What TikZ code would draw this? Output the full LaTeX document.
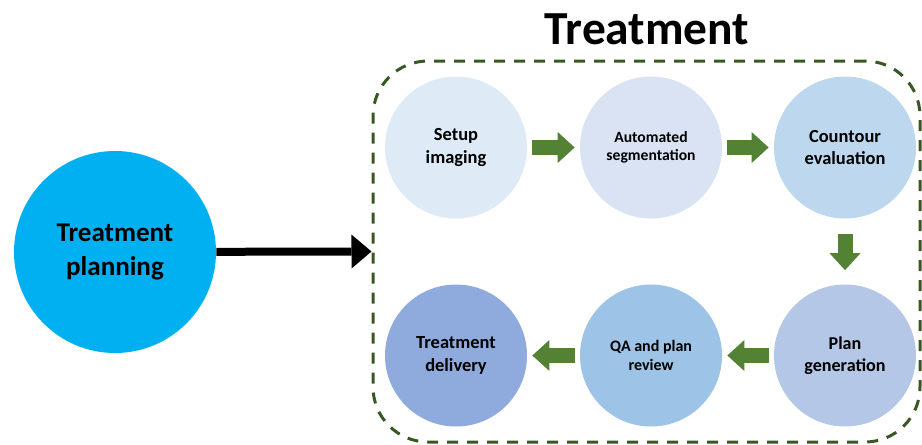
\documentclass[tikz,border=0pt]{standalone}
\usepackage{fontspec}
\setmainfont{Carlito}
\usetikzlibrary{arrows.meta}
\definecolor{planblue}{HTML}{00B0F0}
\definecolor{setupcol}{HTML}{DEEBF7}
\definecolor{segcol}{HTML}{DAE3F3}
\definecolor{contourcol}{HTML}{BDD7EE}
\definecolor{plangencol}{HTML}{B4C7E7}
\definecolor{qacol}{HTML}{9DC3E6}
\definecolor{delivcol}{HTML}{8FAADC}
\definecolor{boxgreen}{HTML}{385723}
\definecolor{arrowgreen}{HTML}{548235}

\begin{document}
\begin{tikzpicture}[
        stage/.style={circle, inner sep=0pt, minimum size=2.84cm, align=center,
                      font=\bfseries\fontsize{10.5}{12.8}\selectfont},
        greenarrow/.style={arrowgreen, line width=0.3cm,
                      -{Triangle[length=0.34cm, width=0.62cm, line width=0pt]},
                      shorten <=0.1cm, shorten >=0.1cm}
    ]
        \useasboundingbox (0,0) rectangle (18.44,8.88);

        \node [circle, fill=planblue, minimum size=4.04cm, inner sep=0pt, align=center,
               font=\bfseries\fontsize{15.4}{18.8}\selectfont] (planning) at (2.30, 3.84) {Treatment\\planning};

        \node [draw=boxgreen, line width=0.06cm, dash pattern=on 0.22cm off 0.18cm,
               rounded corners=1.1cm, minimum width=10.94cm, minimum height=7.62cm] (treatbox) at (12.93, 3.85) {};
        \node [font=\bfseries\fontsize{27}{32}\selectfont] (title) at (12.94, 8.29) {Treatment};

        \node [stage, fill=setupcol] (setup) at (9.12, 5.93) {Setup\\imaging};
        \node [stage, fill=segcol, font=\bfseries\fontsize{8.9}{10.5}\selectfont] (segment) at (13.02, 5.93) {Automated\\segmentation};
        \node [stage, fill=contourcol] (contour) at (16.90, 5.93) {Countour\\evaluation};
        \node [stage, fill=plangencol, font=\bfseries\fontsize{10.3}{12.3}\selectfont] (plangen) at (16.90, 1.77) {Plan\\generation};
        \node [stage, fill=qacol, font=\bfseries\fontsize{9.1}{10.5}\selectfont] (qa) at (13.02, 1.77) {QA and plan\\review};
        \node [stage, fill=delivcol] (delivery) at (9.12, 1.77) {Treatment\\delivery};

        \draw [line width=0.16cm, -{Triangle[length=0.4cm, width=0.68cm, line width=0pt]}] (planning) -- (treatbox.west);

        \draw [greenarrow] (setup) -- (segment);
        \draw [greenarrow] (segment) -- (contour);
        \draw [greenarrow, shorten <=0.3cm, shorten >=0.28cm] (contour) -- (plangen);
        \draw [greenarrow] (plangen) -- (qa);
        \draw [greenarrow] (qa) -- (delivery);
    \end{tikzpicture}
\end{document}
